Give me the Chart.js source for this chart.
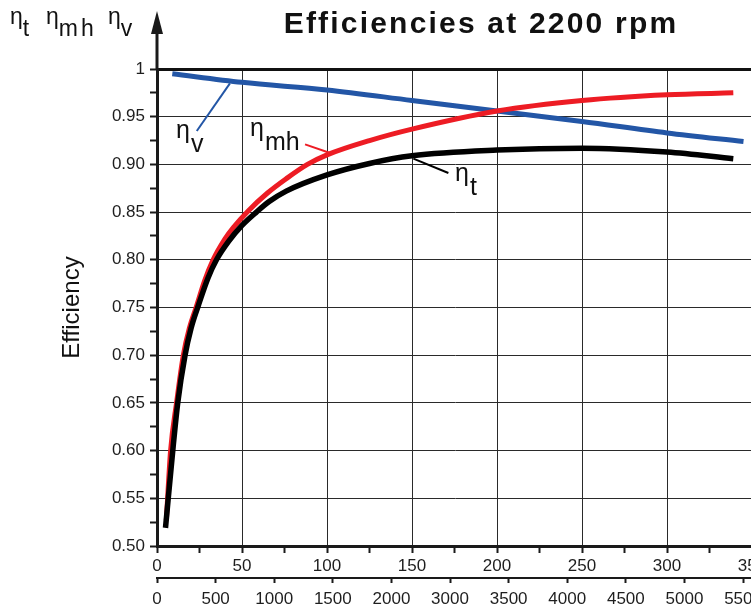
<!DOCTYPE html>
<html>
<head>
<meta charset="utf-8">
<script src="https://cdn.jsdelivr.net/npm/chart.js@4.4.1/dist/chart.umd.min.js"></script>
<style>
  html, body { margin: 0; padding: 0; background: #fff; overflow: hidden; }
  #wrap { width: 770px; height: 609px; }
</style>
</head>
<body>
<div id="wrap"><canvas id="effChart" width="770" height="609"></canvas></div>
<script>
  // pressure in bar (x) and efficiencies
  const mhBar = [5.5, 8, 11.5, 15.5, 19, 23, 28, 33, 40, 45, 53.5, 65, 76, 88.5, 100, 125, 150, 200, 250, 300, 339];
  const mhVals = [0.527, 0.600, 0.650, 0.700, 0.728, 0.750, 0.778, 0.800, 0.822, 0.834, 0.851, 0.870, 0.885, 0.900, 0.910, 0.925, 0.937, 0.956, 0.967, 0.973, 0.975];

  const tBar = [5, 9.5, 12.2, 16.5, 20, 24.3, 30, 35, 42, 50, 58.5, 66, 76, 100, 125, 150, 200, 250, 300, 339];
  const tVals = [0.519, 0.604, 0.650, 0.700, 0.728, 0.752, 0.781, 0.800, 0.819, 0.836, 0.850, 0.861, 0.872, 0.889, 0.901, 0.909, 0.915, 0.917, 0.913, 0.906];

  const vBar = [9, 50, 100, 150, 200, 250, 300, 345];
  const vVals = [0.995, 0.986, 0.978, 0.967, 0.956, 0.945, 0.933, 0.924];

  // psi axis labels as printed on the original (2500 is skipped there)
  const psiLabels = ['0', '500', '1000', '1500', '2000', '3000', '3500', '4000', '4500', '5000', '5500'];

  const chartTitle = 'Efficiencies at 2200 rpm';
  const barMax = 350;
  const psiPerBar = 14.5038;
  const psiStep = 500;

  const blue = '#2356a6';
  const red = '#ed1c24';
  const black = '#000000';
  const axisColor = '#1a1a1a';
  const fontFamily = '"Liberation Sans", Arial, Helvetica, sans-serif';

  // labels with leader lines, in data units (bar, efficiency)
  const notes = [
    { sub: 'v',  color: blue,  at: [11.2, 0.9277],  from: [23.4, 0.935],  to: [42.9, 0.985] },
    { sub: 'mh', color: red,   at: [54.7, 0.9295],  from: [87.1, 0.921],  to: [101.8, 0.912] },
    { sub: 't',  color: black, at: [175.3, 0.8826], from: [150.8, 0.906], to: [171.4, 0.891] }
  ];

  const toXY = (xs, ys) => xs.map((x, i) => ({ x: x, y: ys[i] }));
  const isMajor = (v, step) => Math.abs(v / step - Math.round(v / step)) < 1e-6;

  Chart.defaults.font.family = fontFamily;
  Chart.defaults.color = '#1e1e1e';

  const decorPlugin = {
    id: 'decor',
    afterDraw(chart) {
      const { ctx, chartArea, scales } = chart;
      const left = chartArea.left;
      ctx.save();

      // arrow on top of the y axis
      ctx.strokeStyle = axisColor;
      ctx.fillStyle = axisColor;
      ctx.lineWidth = 3;
      ctx.beginPath();
      ctx.moveTo(left, chartArea.top);
      ctx.lineTo(left, 30);
      ctx.stroke();
      ctx.beginPath();
      ctx.moveTo(left, 11);
      ctx.lineTo(left - 6, 34);
      ctx.lineTo(left + 6, 34);
      ctx.closePath();
      ctx.fill();

      // title
      ctx.fillStyle = '#111';
      ctx.font = 'bold 30px ' + fontFamily;
      ctx.letterSpacing = '2.2px';
      ctx.textAlign = 'center';
      ctx.textBaseline = 'alphabetic';
      ctx.fillText(chartTitle, 481, 33);
      ctx.letterSpacing = '0px';

      // axis symbols at the top left
      ctx.textAlign = 'left';
      ctx.font = '23px ' + fontFamily;
      [[10, 't'], [46, 'mh'], [108, 'v']].forEach(([x, sub]) => {
        ctx.fillText('η', x, 24);
        const w = ctx.measureText('η').width;
        ctx.letterSpacing = sub === 'mh' ? '3px' : '0px';
        ctx.fillText(sub, x + w, 36);
        ctx.letterSpacing = '0px';
      });

      // curve labels and leader lines
      ctx.font = '25px ' + fontFamily;
      notes.forEach(n => {
        const px = v => scales.x.getPixelForValue(v);
        const py = v => scales.y.getPixelForValue(v);
        ctx.strokeStyle = n.color;
        ctx.lineWidth = 2;
        ctx.beginPath();
        ctx.moveTo(px(n.from[0]), py(n.from[1]));
        ctx.lineTo(px(n.to[0]), py(n.to[1]));
        ctx.stroke();
        ctx.fillStyle = '#111';
        const x0 = px(n.at[0]);
        const y0 = py(n.at[1]);
        ctx.fillText('η', x0, y0);
        const w = ctx.measureText('η').width;
        ctx.fillText(n.sub, x0 + w + 1, y0 + 14);
      });

      ctx.restore();
    }
  };

  const effData = {
    datasets: [
      {
        label: 'ηt',
        data: toXY(tBar, tVals),
        borderColor: black,
        borderWidth: 5.5,
        pointRadius: 0,
        cubicInterpolationMode: 'monotone'
      },
      {
        label: 'ηmh',
        data: toXY(mhBar, mhVals),
        borderColor: red,
        borderWidth: 5,
        pointRadius: 0,
        cubicInterpolationMode: 'monotone'
      },
      {
        label: 'ηv',
        data: toXY(vBar, vVals),
        borderColor: blue,
        borderWidth: 5,
        pointRadius: 0,
        cubicInterpolationMode: 'monotone'
      }
    ]
  };

  const effConfig = {
    type: 'line',
    data: effData,
    plugins: [decorPlugin],
    options: {
      responsive: false,
      animation: false,
      layout: { padding: { left: 0, top: 69, right: 18, bottom: 0 } },
      plugins: {
        legend: { display: false },
        tooltip: { enabled: false }
      },
      scales: {
        x: {
          type: 'linear',
          position: 'bottom',
          min: 0,
          max: barMax,
          weight: 0,
          afterFit: s => { s.height = 32; },
          grid: {
            color: c => isMajor(c.tick.value, 50) ? '#2a2a2a' : 'rgba(0,0,0,0)',
            lineWidth: 1,
            tickColor: axisColor,
            tickWidth: 2,
            tickLength: 7
          },
          border: { display: true, color: axisColor, width: 3 },
          ticks: {
            stepSize: 25,
            autoSkip: false,
            maxRotation: 0,
            padding: 3,
            font: { size: 17 },
            callback: v => isMajor(v, 50) ? String(v) : ''
          }
        },
        x2: {
          type: 'linear',
          position: 'bottom',
          bounds: 'data',
          min: 0,
          max: barMax * psiPerBar,
          weight: 1,
          afterFit: s => { s.height = 31; },
          // one tick per printed psi label, every 500 psi
          afterBuildTicks: s => { s.ticks = psiLabels.map((_, i) => ({ value: i * psiStep })); },
          grid: {
            drawOnChartArea: false,
            color: axisColor,
            tickColor: axisColor,
            tickWidth: 2,
            tickLength: 5
          },
          border: { display: true, color: axisColor, width: 2 },
          ticks: {
            autoSkip: false,
            maxRotation: 0,
            padding: 6,
            font: { size: 17 },
            callback: (v, i) => psiLabels[i]
          }
        },
        y: {
          type: 'linear',
          min: 0.5,
          max: 1,
          afterFit: s => { s.width = 157; },
          title: {
            display: true,
            text: 'Efficiency',
            color: '#111',
            font: { size: 24 },
            padding: { top: 58, bottom: 0 }
          },
          grid: {
            color: c => {
              const v = c.tick.value;
              if (Math.abs(v - 1) < 1e-9) return '#111';
              return isMajor(v, 0.05) ? '#2a2a2a' : 'rgba(0,0,0,0)';
            },
            lineWidth: c => Math.abs(c.tick.value - 1) < 1e-9 ? 3 : 1,
            tickColor: axisColor,
            tickWidth: 2,
            tickLength: 7
          },
          border: { display: true, color: axisColor, width: 3 },
          ticks: {
            stepSize: 0.025,
            autoSkip: false,
            padding: 5,
            font: { size: 17 },
            callback: v => {
              if (Math.abs(v - 1) < 1e-9) return '1';
              return isMajor(v, 0.05) ? v.toFixed(2) : '';
            }
          }
        }
      }
    }
  };

  const effCanvas = document.getElementById('effChart');
  new Chart(effCanvas, effConfig);
</script>
</body>
</html>
